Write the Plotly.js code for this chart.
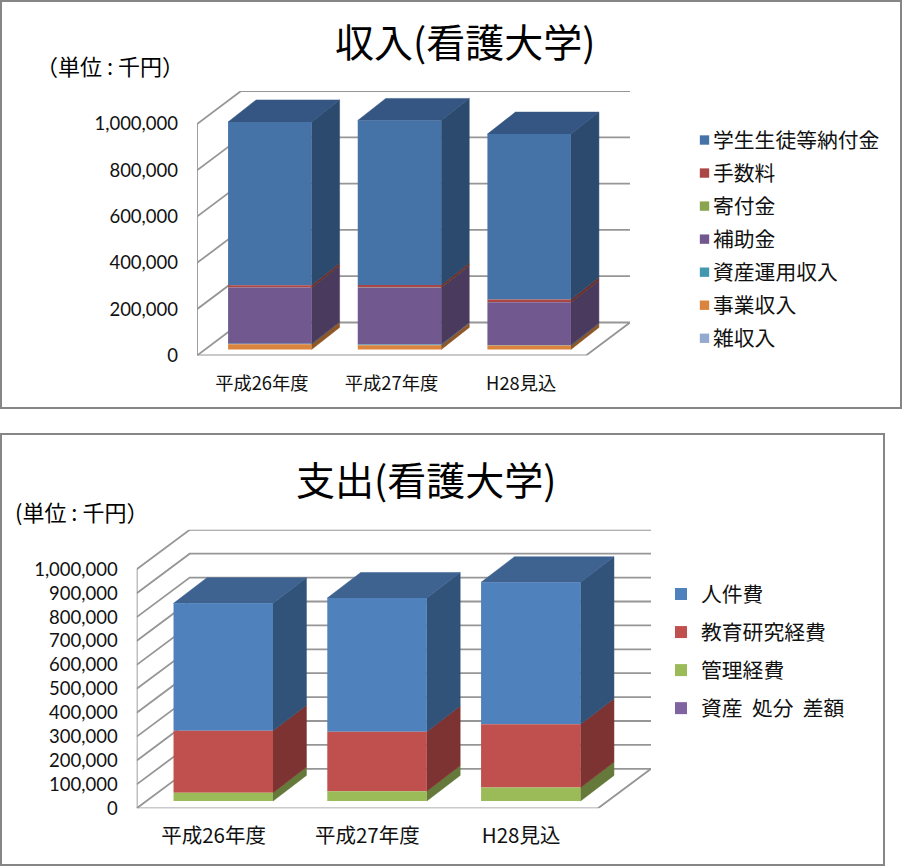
<!DOCTYPE html>
<html><head><meta charset="utf-8">
<script src="https://cdn.plot.ly/plotly-3.0.1.min.js"></script>
<style>html,body{margin:0;padding:0;background:#fff}#c{width:902px;height:866px}</style>
</head><body><div id="c"></div>
<script>
// ---------- data (thousand yen) ----------
const years = ['平成26年度','平成27年度','H28見込'];
const incomeNames = ['学生生徒等納付金','手数料','寄付金','補助金','資産運用収入','事業収入','雑収入'];
const tuition   = [705000,711000,715000];
const fees      = [10000,10000,11000];
const donations = [500,500,500];
const subsidies = [243000,246000,185000];
const assetOps  = [1500,4000,2000];
const business  = [23000,18000,17000];
const misc      = [0,0,0];
const incomeTicks = [0,200000,400000,600000,800000,1000000];

const expenseNames = ['人件費','教育研究経費','管理経費','資産\u00A0\u00A0処分\u00A0\u00A0差額'];
const personnel = [533000,559000,594000];
const research  = [259000,249000,265000];
const admin     = [35000,41000,56000];
const disposal  = [0,0,0];
const expenseTicks = [0,100000,200000,300000,400000,500000,600000,700000,800000,900000,1000000];

// ---------- styles ----------
const incomeFront = ['#4572A7','#AA4643','#89A54E','#71588F','#4198AF','#DB843D','#93A9CF'];
const incomeSide  = ['#2C4A6E','#6F2E2C','#5A6C33','#4A3A5E','#2B6372','#8F5628','#60708A'];
const incomeTop   = '#355682';
const expenseFront = ['#4F81BD','#C0504D','#9BBB59','#8064A2'];
const expenseSide  = ['#325379','#7D3331','#65793A','#53416A'];
const expenseTop   = '#3F6390';
const GRID = '#969696', FRAME = '#868686';
const CJK = '"Noto Sans CJK JP","Noto Sans",sans-serif';
const W = 902, H = 866;
const px = x => x / W, py = y => 1 - y / H;

const traces = [], annotations = [], shapes = [], layout = {};

function chart(o) {
  const s = o.suffix, xa = 'x' + s, ya = 'y' + s;
  const pxPerCat = (o.front[1] - o.front[0]) / 3;
  const pxPerVal = (o.yZero - o.yTop) / o.ticks[o.ticks.length - 1];
  const xU = p => p / pxPerCat, yU = p => p / pxPerVal;
  const xL = -0.5, xR = 2.5;
  const wdx = xU(o.wallDepth[0]), wdy = yU(o.wallDepth[1]);

  // walls and floor
  const gx = [], gy = [];
  o.ticks.forEach(v => { gx.push(xL, xL + wdx, xR + wdx, null); gy.push(v, v + wdy, v + wdy, null); });
  gx.push(xL, xL, null, xL, xR, xR + wdx);
  gy.push(0, o.ticks[o.ticks.length - 1], null, 0, 0, wdy);
  traces.push({type:'scatter',mode:'lines',x:gx,y:gy,xaxis:xa,yaxis:ya,zorder:0,showlegend:false,hoverinfo:'skip',
    cliponaxis:false,line:{color:GRID,width:1.8}});

  // bars: bottom of the stack is the last listed series
  const off = o.barOffset, bx = xU(off[0]), by = yU(off[1]);
  const w = o.barWidth / pxPerCat, bdx = xU(o.barDepth[0]), bdy = yU(o.barDepth[1]);
  const cum = [by, by, by];
  for (let k = o.series.length - 1; k >= 0; k--) {
    const vals = o.series[k], base = cum.slice();
    const sx = [], sy = [];
    vals.forEach((v, i) => {
      if (!v) return;
      const r = i + bx + w / 2;
      sx.push(r, r + bdx, r + bdx, r, r, null);
      sy.push(base[i], base[i] + bdy, base[i] + v + bdy, base[i] + v, base[i], null);
      cum[i] += v;
    });
    if (sx.length) traces.push({type:'scatter',mode:'lines',fill:'toself',x:sx,y:sy,xaxis:xa,yaxis:ya,zorder:1,
      showlegend:false,hoverinfo:'skip',fillcolor:o.side[k],line:{color:o.side[k],width:0.5}});
  }
  // top faces
  const tx = [], ty = [];
  cum.forEach((T, i) => {
    const l = i + bx - w / 2, r = i + bx + w / 2;
    tx.push(l, r, r + bdx, l + bdx, l, null);
    ty.push(T, T, T + bdy, T + bdy, T, null);
  });
  traces.push({type:'scatter',mode:'lines',fill:'toself',x:tx,y:ty,xaxis:xa,yaxis:ya,zorder:1,showlegend:false,
    hoverinfo:'skip',fillcolor:o.top,line:{color:o.top,width:0.5}});

  // front faces (listed in legend order)
  const bases = [];
  const run = [by, by, by];
  for (let k = o.series.length - 1; k >= 0; k--) {
    bases[k] = run.slice();
    o.series[k].forEach((v, i) => run[i] += v);
  }
  o.series.forEach((vals, k) => {
    traces.push({type:'bar',name:o.names[k],x:[0,1,2].map(i => i + bx),y:vals,base:bases[k],width:w,
      xaxis:xa,yaxis:ya,zorder:2,legend:o.legend,legendgroup:o.legend + k,
      marker:{color:o.front[2][k],line:{width:0}}});
  });

  layout['xaxis' + s] = {domain:[px(o.front[0]), px(o.front[1] + o.wallDepth[0])], range:[xL, xR + wdx],
    anchor:ya, tickmode:'array', tickvals:[0,1,2], ticktext:years, ticks:'', showgrid:false, zeroline:false, showline:false,
    tickfont:{family:CJK,size:o.catFont,color:'#111'}, ticklabelstandoff:o.catStandoff, fixedrange:true};
  layout['yaxis' + s] = {domain:[py(o.yZero), py(o.yTop - o.wallDepth[1])], range:[0, (o.yZero - o.yTop + o.wallDepth[1]) / pxPerVal],
    anchor:xa, tickmode:'array', tickvals:o.ticks, tickformat:',d', ticks:'', showgrid:false, zeroline:false, showline:false,
    tickfont:{family:'Lato,"Open Sans",sans-serif',size:18.5,color:'#111'}, ticklabelstandoff:18, fixedrange:true};
  layout[o.legend] = {x:px(o.legendX), xanchor:'left', y:py(o.legendY), yanchor:'top', traceorder:'grouped',
    tracegroupgap:o.legendGap, font:{family:CJK,size:20.8,color:'#111'}, bgcolor:'rgba(0,0,0,0)', itemclick:false, itemdoubleclick:false};

  annotations.push({xref:'paper',yref:'paper',x:px(o.titleX),y:py(o.titleY),text:o.title,showarrow:false,
    font:{family:CJK,size:39,color:'#000'},xanchor:'center',yanchor:'middle'});
  annotations.push({xref:'paper',yref:'paper',x:px(o.unitX),y:py(o.unitY),text:o.unit,showarrow:false,
    font:{family:CJK,size:22,color:'#000'},xanchor:'center',yanchor:'middle'});
  shapes.push({type:'rect',xref:'paper',yref:'paper',x0:px(o.box[0]),x1:px(o.box[2]),y0:py(o.box[1]),y1:py(o.box[3]),
    line:{color:FRAME,width:2},fillcolor:'rgba(0,0,0,0)',layer:'below'});
}

chart({suffix:'',legend:'legend',names:incomeNames,series:[tuition,fees,donations,subsidies,assetOps,business,misc],
  ticks:incomeTicks,front:[197,586,incomeFront],side:incomeSide,top:incomeTop,yZero:355.5,yTop:124,
  wallDepth:[44,33],barOffset:[8,6],barWidth:83.5,barDepth:[28,22],
  catFont:18.3,catStandoff:15,legendX:673,legendY:120,legendGap:3,
  title:'収入(看護大学)',titleX:465,titleY:40,unit:'（単位 : 千円）',unitX:110,unitY:65.5,box:[1,1,901,408]});
chart({suffix:'2',legend:'legend2',names:expenseNames,series:[personnel,research,admin,disposal],
  ticks:expenseTicks,front:[136.7,598,expenseFront],side:expenseSide,top:expenseTop,yZero:808.3,yTop:569.3,
  wallDepth:[53,39.5],barOffset:[9.7,7.3],barWidth:99.5,barDepth:[33.4,25.6],
  catFont:20.5,catStandoff:13,legendX:661,legendY:574,legendGap:8,
  title:'支出(看護大学)',titleX:426,titleY:478,unit:'(単位 : 千円）',unitX:81.5,unitY:511,box:[1,434,884,865]});

Object.assign(layout, {width:W,height:H,margin:{l:0,r:0,t:0,b:0,pad:0},paper_bgcolor:'#fff',plot_bgcolor:'rgba(0,0,0,0)',
  barmode:'overlay',annotations,shapes,hovermode:false});

// legend swatches: small squares placed just before the text, as in the reference
const swatch = {legend:['translate(31.5,0) scale(0.78)'], legend2:['translate(30,0) scale(0.85)']};
Plotly.newPlot('c', traces, layout, {displayModeBar:false,staticPlot:true}).then(gd => {
  gd.querySelectorAll('.legend').forEach(l => {
    const wide = l.querySelectorAll('.traces').length > 4;
    l.querySelectorAll('.legendpoints path').forEach(p => p.setAttribute('transform', wide ? swatch.legend[0] : swatch.legend2[0]));
  });
});
</script></body></html>
